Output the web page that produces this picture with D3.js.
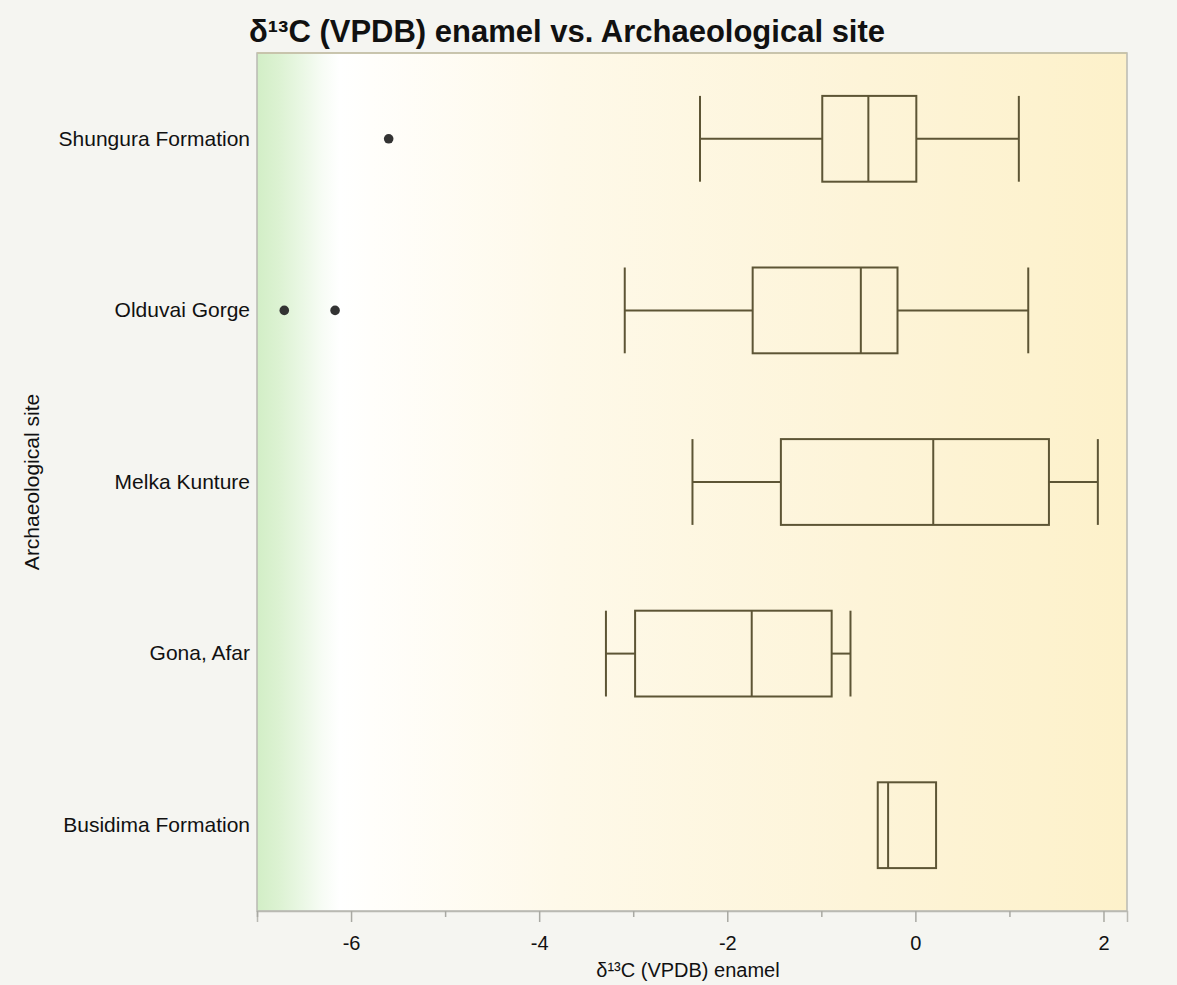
<!DOCTYPE html>
<html>
<head>
<meta charset="utf-8">
<script src="https://cdn.jsdelivr.net/npm/d3@7"></script>
<style>
  html, body { margin: 0; padding: 0; background: #f5f5f1; }
  svg { display: block; }
  text { font-family: "Liberation Sans", Arial, Helvetica, sans-serif; fill: #111; }
</style>
</head>
<body>
<svg id="chart" width="1177" height="985"></svg>
<script>
// Box plot summary per archaeological site (δ13C enamel, ‰ VPDB)
const sites = ["Shungura Formation", "Olduvai Gorge", "Melka Kunture", "Gona, Afar", "Busidima Formation"];
const whiskerLow  = [-2.29, -3.09, -2.37, -3.29, -0.40];
const q1          = [-0.99, -1.73, -1.43, -2.98, -0.40];
const median      = [-0.50, -0.58,  0.19, -1.74, -0.29];
const q3          = [ 0.01, -0.19,  1.42, -0.89,  0.22];
const whiskerHigh = [ 1.10,  1.20,  1.94, -0.69,  0.22];
const outliers    = [[-5.60], [-6.71, -6.17], [], [], []];

const majorTicks = [-6, -4, -2, 0, 2];
const minorTicks = [-7, -5, -3, -1, 1];
const xDomain = [-7, 2.25];

const titleText = "δ¹³C (VPDB) enamel vs. Archaeological site";
const xTitle = "δ¹³C (VPDB) enamel";
const yTitle = "Archaeological site";

const W = 1177, H = 985;
const margin = { top: 53, right: 50, bottom: 74, left: 257 };
const pw = W - margin.left - margin.right;
const ph = H - margin.top - margin.bottom;

const svg = d3.select("#chart");

const x = d3.scaleLinear().domain(xDomain).range([0, pw]);
const y = d3.scaleBand().domain(sites).range([0, ph]).paddingInner(0.5).paddingOuter(0.25);

// background gradient of the plot panel: green on the far left, white, then warm yellow
const defs = svg.append("defs");
const grad = defs.append("linearGradient").attr("id", "panelGrad")
  .attr("x1", "0%").attr("x2", "100%").attr("y1", "0%").attr("y2", "0%");
[
  [0.00, "#d2eec6"],
  [0.025, "#dcf2d2"],
  [0.05, "#e9f7e3"],
  [0.075, "#f7fcf5"],
  [0.095, "#ffffff"],
  [0.13, "#fffefb"],
  [0.35, "#fef9e9"],
  [0.70, "#fdf4d8"],
  [1.00, "#fdf1ca"]
].forEach(([o, c]) => grad.append("stop").attr("offset", o).attr("stop-color", c));

const g = svg.append("g").attr("transform", `translate(${margin.left},${margin.top})`);

g.append("rect").attr("width", pw).attr("height", ph).attr("fill", "url(#panelGrad)");

// panel frame
g.append("rect").attr("width", pw).attr("height", ph)
  .attr("fill", "none").attr("stroke", "#b9b9b2").attr("stroke-width", 1.5);
g.append("line").attr("x1", 0).attr("x2", pw).attr("y1", 0).attr("y2", 0)
  .attr("stroke", "#c9c3a6").attr("stroke-width", 1.5);

// x axis: labelled major ticks and short minor ticks
const xAxis = g.append("g").attr("transform", `translate(0,${ph})`)
  .call(d3.axisBottom(x).tickValues(majorTicks).tickSize(11).tickPadding(14)
    .tickFormat(d => d < 0 ? "-" + Math.abs(d) : String(d)));
xAxis.select(".domain").attr("stroke", "#b9b9b2").attr("stroke-width", 1.5);
xAxis.selectAll(".tick line").attr("stroke", "#a9a9a3").attr("stroke-width", 1.5);
xAxis.selectAll(".tick text").attr("font-size", 20).attr("fill", "#111")
  .attr("font-family", '"Liberation Sans", Arial, sans-serif');

const xMinor = g.append("g").attr("transform", `translate(0,${ph})`)
  .call(d3.axisBottom(x).tickValues(minorTicks).tickSize(6).tickFormat(""));
xMinor.select(".domain").remove();
xMinor.selectAll(".tick line").attr("stroke", "#a9a9a3").attr("stroke-width", 1.5);

// y axis category labels
const yAxis = g.append("g")
  .call(d3.axisLeft(y).tickSize(0).tickPadding(7));
yAxis.select(".domain").remove();
yAxis.selectAll(".tick text").attr("font-size", 21).attr("fill", "#111")
  .attr("font-family", '"Liberation Sans", Arial, sans-serif');

// box plots
const boxColor = "#5d5535";
const sw = 2;
sites.forEach((s, i) => {
  const y0 = y(s), bh = y.bandwidth(), yc = y0 + bh / 2;
  const bg = g.append("g").attr("fill", "none").attr("stroke", boxColor).attr("stroke-width", sw);
  if (whiskerLow[i] < q1[i]) {
    bg.append("line").attr("x1", x(whiskerLow[i])).attr("x2", x(q1[i])).attr("y1", yc).attr("y2", yc);
    bg.append("line").attr("x1", x(whiskerLow[i])).attr("x2", x(whiskerLow[i])).attr("y1", y0).attr("y2", y0 + bh);
  }
  if (whiskerHigh[i] > q3[i]) {
    bg.append("line").attr("x1", x(q3[i])).attr("x2", x(whiskerHigh[i])).attr("y1", yc).attr("y2", yc);
    bg.append("line").attr("x1", x(whiskerHigh[i])).attr("x2", x(whiskerHigh[i])).attr("y1", y0).attr("y2", y0 + bh);
  }
  bg.append("rect").attr("x", x(q1[i])).attr("y", y0)
    .attr("width", x(q3[i]) - x(q1[i])).attr("height", bh);
  bg.append("line").attr("x1", x(median[i])).attr("x2", x(median[i])).attr("y1", y0).attr("y2", y0 + bh);

  g.selectAll(null).data(outliers[i]).enter().append("circle")
    .attr("cx", d => x(d)).attr("cy", yc).attr("r", 4.8).attr("fill", "#333333");
});

// titles
svg.append("text").attr("x", 567).attr("y", 42).attr("text-anchor", "middle")
  .attr("font-size", 31).attr("font-weight", "bold").text(titleText);
svg.append("text").attr("x", 688).attr("y", 977).attr("text-anchor", "middle")
  .attr("font-size", 20).text(xTitle);
svg.append("text").attr("transform", `translate(39,${margin.top + ph / 2}) rotate(-90)`)
  .attr("text-anchor", "middle").attr("font-size", 21).text(yTitle);
</script>
</body>
</html>
